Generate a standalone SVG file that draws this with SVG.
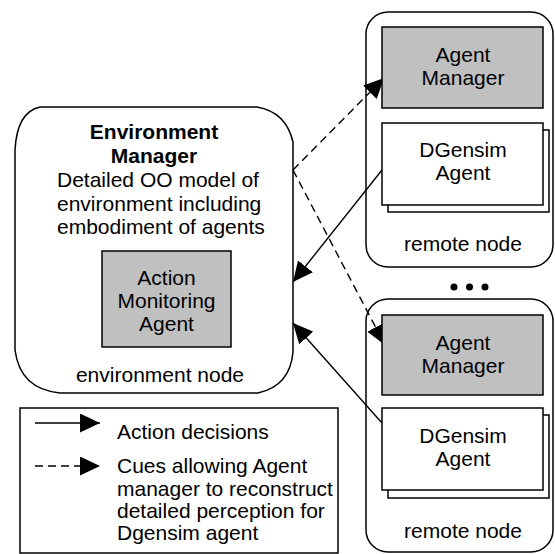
<svg xmlns="http://www.w3.org/2000/svg" width="555" height="554" viewBox="0 0 555 554">
  <style>
    text { font-family: "Liberation Sans", Arial, sans-serif; font-size: 21px; fill: #000; }
    .c { text-anchor: middle; }
    .b { font-weight: bold; }
    .frame { fill: none; stroke: #000; stroke-width: 1.5; }
    .gray { fill: #c0c0c0; stroke: #000; stroke-width: 1.5; }
    .white { fill: #fff; stroke: #000; stroke-width: 1.5; }
    .link { fill: none; stroke: #000; stroke-width: 1.4; marker-end: url(#arrow); }
    .dash { stroke-dasharray: 8 5; }
  </style>
  <defs>
    <marker id="arrow" viewBox="0 0 20 19" refX="20" refY="9.5" markerWidth="20" markerHeight="19" markerUnits="userSpaceOnUse" orient="auto">
      <path d="M0,0 L20,9.5 L0,19 Z" fill="#000"/>
    </marker>
  </defs>

  <!-- connectors (drawn first so the manager boxes sit over the arrow tips) -->
  <g id="connectors">
    <line class="link dash" x1="293" y1="170" x2="384" y2="78"/>
    <line class="link dash" x1="293" y1="170" x2="385" y2="345"/>
    <line class="link" x1="382" y1="170" x2="293" y2="282"/>
    <line class="link" x1="382" y1="423" x2="293" y2="323"/>
  </g>

  <!-- environment node -->
  <g id="environment-node">
    <path class="frame" d="M40,107 L257,107 Q286,112 293,142 L293,352 Q290,386 258,393 L60,393 Q20,389 15,350 L15,150 Q17,112 40,107 Z"/>
    <text class="c b" x="154" y="139">Environment</text>
    <text class="c b" x="154" y="163">Manager</text>
    <text x="57" y="187">Detailed OO model of</text>
    <text x="57" y="211">environment including</text>
    <text x="57" y="234">embodiment of agents</text>
    <text class="c" x="160" y="382">environment node</text>
  </g>
  <g id="action-monitoring-agent">
    <rect class="gray" x="102" y="251" width="129" height="96"/>
    <text class="c" x="166.5" y="285">Action</text>
    <text class="c" x="166.5" y="308">Monitoring</text>
    <text class="c" x="166.5" y="331">Agent</text>
  </g>

  <!-- first remote node -->
  <g id="remote-node-1">
    <rect class="frame" x="366" y="12" width="187" height="255" rx="22" ry="22"/>
    <text class="c" x="463" y="251">remote node</text>
  </g>
  <g id="agent-manager-1">
    <rect class="gray" x="382" y="27" width="161" height="81"/>
    <text class="c" x="463" y="62">Agent</text>
    <text class="c" x="463" y="85">Manager</text>
  </g>
  <g id="dgensim-agent-1">
    <rect class="white" x="388" y="130" width="161" height="82"/>
    <rect class="white" x="382" y="123" width="161" height="82"/>
    <text class="c" x="463" y="157">DGensim</text>
    <text class="c" x="463" y="180">Agent</text>
  </g>

  <!-- ellipsis between remote nodes -->
  <g id="more-nodes">
    <circle cx="454" cy="287" r="3.5"/>
    <circle cx="469.5" cy="287" r="3.5"/>
    <circle cx="485" cy="287" r="3.5"/>
  </g>

  <!-- second remote node -->
  <g id="remote-node-2">
    <rect class="frame" x="366" y="299" width="187" height="253" rx="22" ry="22"/>
    <text class="c" x="463" y="538">remote node</text>
  </g>
  <g id="agent-manager-2">
    <rect class="gray" x="382" y="315" width="161" height="80"/>
    <text class="c" x="463" y="350">Agent</text>
    <text class="c" x="463" y="373">Manager</text>
  </g>
  <g id="dgensim-agent-2">
    <rect class="white" x="388" y="415" width="161" height="83"/>
    <rect class="white" x="382" y="408" width="161" height="82"/>
    <text class="c" x="463" y="443">DGensim</text>
    <text class="c" x="463" y="466">Agent</text>
  </g>

  <!-- legend -->
  <g id="legend">
    <rect class="frame" x="20" y="408" width="318" height="145"/>
    <line class="link" x1="35" y1="423" x2="100" y2="423"/>
    <line class="link dash" x1="35" y1="466" x2="100" y2="466"/>
    <text x="117" y="439">Action decisions</text>
    <text x="117" y="473">Cues allowing Agent</text>
    <text x="117" y="496">manager to reconstruct</text>
    <text x="117" y="518">detailed perception for</text>
    <text x="117" y="540">Dgensim agent</text>
  </g>
</svg>
